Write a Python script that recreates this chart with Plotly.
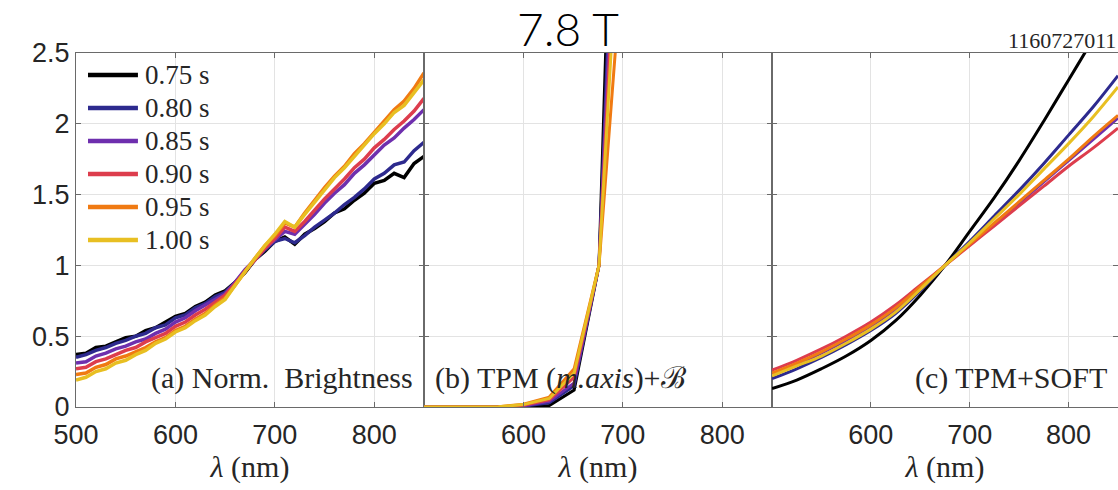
import plotly.graph_objects as go

# ---- data -------------------------------------------------------------
times = ["0.75 s", "0.80 s", "0.85 s", "0.90 s", "0.95 s", "1.00 s"]
colors = ["#000000", "#2d2a8e", "#6e2fae", "#dd3d4d", "#f07a12", "#e8bf22"]

# (a) normalised measured brightness, sampled every 10 nm
wl_a = list(range(500, 851, 10))
bright_075 = [.37, .38, .42, .43, .46, .49, .50, .54, .56, .60, .64, .66, .71, .74, .79, .82, .88, .95,
              1.04, 1.10, 1.17, 1.20, 1.15, 1.22, 1.26, 1.31, 1.37, 1.40, 1.46, 1.51, 1.58, 1.60, 1.65,
              1.62, 1.72, 1.77]
bright_080 = [.35, .37, .40, .42, .45, .47, .50, .52, .56, .58, .63, .65, .70, .73, .78, .81, .88, .96,
              1.04, 1.11, 1.17, 1.19, 1.16, 1.21, 1.27, 1.32, 1.37, 1.43, 1.48, 1.54, 1.61, 1.65, 1.71,
              1.73, 1.81, 1.87]
bright_085 = [.31, .32, .36, .38, .41, .43, .46, .48, .52, .55, .60, .63, .68, .72, .76, .80, .88, .97,
              1.04, 1.12, 1.18, 1.24, 1.22, 1.29, 1.36, 1.44, 1.51, 1.57, 1.65, 1.71, 1.78, 1.85, 1.90,
              1.97, 2.03, 2.10]
bright_090 = [.27, .28, .32, .34, .37, .40, .42, .46, .49, .52, .57, .60, .65, .69, .74, .79, .87, .96,
              1.04, 1.12, 1.19, 1.27, 1.24, 1.31, 1.39, 1.47, 1.54, 1.61, 1.69, 1.75, 1.83, 1.89, 1.96,
              2.02, 2.09, 2.18]
bright_095 = [.23, .24, .28, .30, .34, .36, .39, .42, .46, .49, .54, .57, .62, .66, .72, .77, .86, .96,
              1.05, 1.14, 1.21, 1.30, 1.27, 1.37, 1.46, 1.55, 1.63, 1.70, 1.79, 1.86, 1.94, 2.02, 2.10,
              2.16, 2.25, 2.36]
bright_100 = [.19, .21, .25, .27, .31, .33, .37, .40, .45, .48, .53, .56, .61, .65, .71, .76, .86, .96,
              1.05, 1.14, 1.22, 1.31, 1.27, 1.36, 1.45, 1.53, 1.62, 1.69, 1.77, 1.85, 1.93, 2.00, 2.08,
              2.13, 2.22, 2.31]

# (b) TPM on magnetic axis + bremsstrahlung
wl_b = [500, 525, 550, 575, 600, 626, 651, 676, 701]
tpm_075 = [0, 0, 0, 0, 0.000, 0.01, 0.12, 1.0, 6.6]
tpm_080 = [0, 0, 0, 0, 0.005, 0.03, 0.15, 1.0, 5.5]
tpm_085 = [0, 0, 0, 0, 0.008, 0.04, 0.17, 1.0, 5.0]
tpm_090 = [0, 0, 0, 0, 0.012, 0.05, 0.21, 1.0, 4.5]
tpm_095 = [0, 0, 0, 0.002, 0.020, 0.07, 0.27, 1.0, 3.3]
tpm_100 = [0, 0, 0, 0.002, 0.017, 0.06, 0.24, 1.0, 4.1]

# (c) TPM + SOFT synthetic spectra
wl_c = [500, 525, 550, 575, 600, 625, 650, 675, 700, 725, 750, 775, 800, 825, 850]
soft_075 = [.13, .19, .27, .36, .47, .61, .79, 1.0, 1.24, 1.48, 1.74, 2.02, 2.31, 2.60, 2.90]
soft_080 = [.20, .27, .35, .44, .54, .66, .82, 1.0, 1.17, 1.35, 1.53, 1.72, 1.92, 2.12, 2.34]
soft_085 = [.23, .30, .38, .47, .57, .69, .84, 1.0, 1.15, 1.29, 1.44, 1.59, 1.74, 1.89, 2.04]
soft_090 = [.26, .33, .41, .50, .60, .72, .86, 1.0, 1.14, 1.28, 1.42, 1.56, 1.70, 1.83, 1.97]
soft_095 = [.24, .31, .39, .48, .58, .70, .85, 1.0, 1.15, 1.30, 1.45, 1.60, 1.75, 1.91, 2.06]
soft_100 = [.22, .29, .36, .45, .55, .67, .83, 1.0, 1.16, 1.33, 1.50, 1.68, 1.86, 2.05, 2.26]

y_ticks = [0, 0.5, 1, 1.5, 2, 2.5]
y_tick_text = ["0", "0.5", "1", "1.5", "2", "2.5"]
x_ticks_a = [500, 600, 700, 800]
x_ticks_bc = [600, 700, 800]

panel_a = [bright_075, bright_080, bright_085, bright_090, bright_095, bright_100]
panel_b = [tpm_075, tpm_080, tpm_085, tpm_090, tpm_095, tpm_100]
panel_c = [soft_075, soft_080, soft_085, soft_090, soft_095, soft_100]

# ---- figure -----------------------------------------------------------
SERIF = "Liberation Serif"
SANS = "Liberation Sans"
AX = "#6a6a6a"
GRID = "#e3e3e3"

fig = go.Figure()
for i, name in enumerate(times):
    fig.add_trace(go.Scatter(x=wl_a, y=panel_a[i], mode="lines", name=name,
                             line=dict(color=colors[i], width=3.5), xaxis="x", yaxis="y",
                             showlegend=False))
    fig.add_trace(go.Scatter(x=wl_b, y=panel_b[i], mode="lines", name=name,
                             line=dict(color=colors[i], width=3), xaxis="x2", yaxis="y2",
                             showlegend=False))
    fig.add_trace(go.Scatter(x=wl_c, y=panel_c[i], mode="lines", name=name,
                             line=dict(color=colors[i], width=3, shape="spline"),
                             xaxis="x3", yaxis="y3", showlegend=False))

d1 = 348 / 1042
d2 = 696 / 1042
common_x = dict(range=[500, 850], showgrid=True, gridcolor=GRID, gridwidth=1,
                showline=True, linecolor=AX, linewidth=1, mirror="ticks",
                ticks="inside", ticklen=5, tickcolor=AX, zeroline=False,
                ticklabelstandoff=4,
                tickfont=dict(family=SANS, size=27, color="#262626"),
                title=dict(text="<i>λ</i> (nm)", font=dict(family=SERIF, size=30, color="#262626"),
                           standoff=4))
common_y = dict(range=[0, 2.5], showgrid=True, gridcolor=GRID, gridwidth=1,
                showline=True, linecolor=AX, linewidth=1, mirror="ticks",
                ticks="inside", ticklen=5, tickcolor=AX, zeroline=False,
                tickvals=y_ticks, ticktext=y_tick_text, domain=[0, 1],
                tickfont=dict(family=SANS, size=27, color="#262626"))

fig.update_layout(
    width=1118, height=490,
    margin=dict(l=76, r=0, t=53, b=83),
    paper_bgcolor="white", plot_bgcolor="white",
    showlegend=False,
    xaxis=dict(common_x, domain=[0, d1], tickvals=x_ticks_a),
    xaxis2=dict(common_x, domain=[d1, d2], tickvals=x_ticks_bc, anchor="y2"),
    xaxis3=dict(common_x, domain=[d2, 1], tickvals=x_ticks_bc, anchor="y3"),
    yaxis=dict(common_y, anchor="x"),
    yaxis2=dict(common_y, anchor="x2", showticklabels=False),
    yaxis3=dict(common_y, anchor="x3", showticklabels=False),
)

# legend drawn inside panel (a)
for i, name in enumerate(times):
    yy = 0.938 - i * 0.0932
    fig.add_shape(type="line", xref="x domain", yref="y domain",
                  x0=0.0345, x1=0.178, y0=yy, y1=yy,
                  line=dict(color=colors[i], width=4.5))
    fig.add_annotation(xref="x domain", yref="y domain", x=0.192, y=yy,
                       xanchor="left", yanchor="middle", showarrow=False,
                       text=name, font=dict(family=SERIF, size=27, color="#262626"))

# panel labels
fig.add_annotation(xref="x domain", yref="y domain", x=0.974, y=0.082,
                   xanchor="right", yanchor="middle", showarrow=False,
                   text="(a) Norm.  Brightness", font=dict(family=SERIF, size=30, color="#262626"))
fig.add_annotation(xref="x2 domain", yref="y2 domain", x=0.026, y=0.082,
                   xanchor="left", yanchor="middle", showarrow=False,
                   text="(b) TPM (<i>m.axis</i>)+ℬ", font=dict(family=SERIF, size=30, color="#262626"))
fig.add_annotation(xref="x3 domain", yref="y3 domain", x=0.974, y=0.082,
                   xanchor="right", yanchor="middle", showarrow=False,
                   text="(c) TPM+SOFT", font=dict(family=SERIF, size=30, color="#262626"))

# title and shot number
fig.add_annotation(xref="paper", yref="paper", x=(568 - 76) / 1042, y=1.0706,
                   xanchor="center", yanchor="middle", showarrow=False,
                   text="7.8 T", font=dict(family="Lato", size=46, weight=300, color="#000000"))
fig.add_annotation(xref="paper", yref="paper", x=1.0, y=1.034,
                   xanchor="right", yanchor="middle", showarrow=False,
                   text="1160727011", font=dict(family=SERIF, size=22, color="#262626"))

fig.write_html("out.html")
